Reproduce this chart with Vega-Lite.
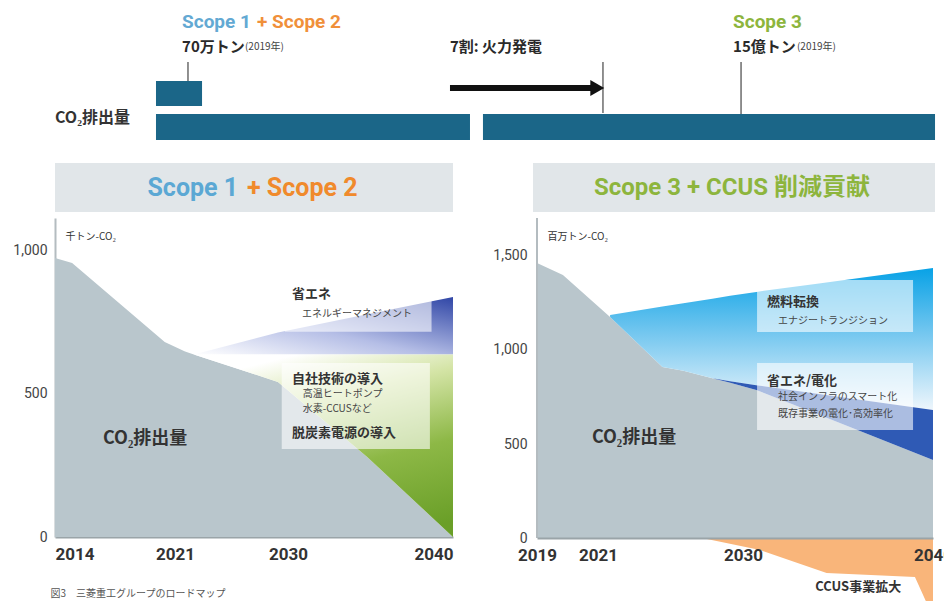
{
  "$schema": "https://vega.github.io/schema/vega-lite/v6.json",
  "background": "white",
  "padding": {"left": 12, "top": 0, "right": 0, "bottom": 0},
  "config": {"view": {"stroke": null}, "font": "Noto Sans CJK JP"},
  "datasets": {
    "top": [
      {"kind": "hdr", "u": 0, "u2": 44.77, "v": 4.9, "v2": 0},
      {"kind": "hdr", "u": 53.77, "u2": 98.99, "v": 4.9, "v2": 0},
      {"kind": "bar", "u": 11.36, "u2": 16.54, "v": 13.1, "v2": 10.6},
      {"kind": "bar", "u": 11.36, "u2": 46.68, "v": 9.8, "v2": 7.2},
      {"kind": "bar", "u": 48.14, "u2": 98.99, "v": 9.8, "v2": 7.2},
      {"kind": "line", "u": 14.96, "v": 15.0, "v2": 13.1},
      {"kind": "line", "u": 61.64, "v": 15.0, "v2": 9.9},
      {"kind": "line", "u": 77.17, "v": 15.0, "v2": 9.8},
      {"kind": "arrow", "u": 44.43, "u2": 60.4, "v": 12.4},
      {"kind": "head", "u": 61.0, "v": 12.4},
      {"kind": "blue", "u": 14.29, "v": 19.0, "text": "Scope 1"},
      {"kind": "orange", "u": 22.72, "v": 19.0, "text": "+ Scope 2"},
      {"kind": "green", "u": 76.27, "v": 19.0, "text": "Scope 3"},
      {"kind": "bold", "u": 14.29, "v": 16.5, "text": "70万トン"},
      {"kind": "bold", "u": 44.43, "v": 16.5, "text": "7割: 火力発電"},
      {"kind": "bold", "u": 76.27, "v": 16.5, "text": "15億トン"},
      {"kind": "small", "u": 21.37, "v": 16.5, "text": "(2019年)"},
      {"kind": "small", "u": 83.46, "v": 16.5, "text": "(2019年)"},
      {"kind": "label", "u": 0, "v": 9.4, "text": "CO₂排出量"},
      {"kind": "hblue", "u": 20.6, "v": 2.45, "text": "Scope 1"},
      {"kind": "horange", "u": 21.6, "v": 2.45, "text": "+ Scope 2"},
      {"kind": "hgreen", "u": 76.15, "v": 2.45, "text": "Scope 3 + CCUS 削減貢献"}
    ],
    "left": [
      {"series": "gray", "year": 2014, "hi": 975, "lo": 0},
      {"series": "gray", "year": 2015, "hi": 958, "lo": 0},
      {"series": "gray", "year": 2020.4, "hi": 682, "lo": 0},
      {"series": "gray", "year": 2021.8, "hi": 648, "lo": 0},
      {"series": "gray", "year": 2022.5, "hi": 638, "lo": 0},
      {"series": "gray", "year": 2029.2, "hi": 542, "lo": 0},
      {"series": "gray", "year": 2034.8, "hi": 280, "lo": 0},
      {"series": "gray", "year": 2040, "hi": 0, "lo": 0},
      {"series": "blue", "year": 2022.5, "hi": 638, "lo": 638},
      {"series": "blue", "year": 2029.2, "hi": 715, "lo": 638},
      {"series": "blue", "year": 2034.8, "hi": 779, "lo": 638},
      {"series": "blue", "year": 2040, "hi": 839, "lo": 638},
      {"series": "green", "year": 2022.5, "hi": 638, "lo": 638},
      {"series": "green", "year": 2029.2, "hi": 638, "lo": 542},
      {"series": "green", "year": 2034.8, "hi": 638, "lo": 280},
      {"series": "green", "year": 2040, "hi": 638, "lo": 0},
      {"series": "box", "year": 2029.76, "year2": 2038.7, "hi": 892, "lo": 717},
      {"series": "box", "year": 2029.5, "year2": 2038.6, "hi": 608, "lo": 308},
      {"series": "tb", "year": 2030.24, "hi": 850, "text": "省エネ"},
      {"series": "ts", "year": 2030.85, "hi": 780, "text": "エネルギーマネジメント"},
      {"series": "tb", "year": 2030.24, "hi": 552, "text": "自社技術の導入"},
      {"series": "ts", "year": 2030.9, "hi": 499, "text": "高温ヒートポンプ"},
      {"series": "ts", "year": 2030.9, "hi": 447, "text": "水素-CCUSなど"},
      {"series": "tb", "year": 2030.24, "hi": 362, "text": "脱炭素電源の導入"},
      {"series": "tbig", "year": 2016.8, "hi": 343, "text": "CO₂排出量"}
    ],
    "right": [
      {"series": "gray", "year": 2019, "hi": 1463, "lo": 0},
      {"series": "gray", "year": 2019.85, "hi": 1399, "lo": 0},
      {"series": "gray", "year": 2021.75, "hi": 1176, "lo": 0},
      {"series": "gray", "year": 2025, "hi": 910, "lo": 0},
      {"series": "gray", "year": 2026.3, "hi": 890, "lo": 0},
      {"series": "gray", "year": 2028.1, "hi": 850, "lo": 0},
      {"series": "gray", "year": 2029.2, "hi": 826, "lo": 0},
      {"series": "gray", "year": 2030.7, "hi": 787, "lo": 0},
      {"series": "gray", "year": 2034, "hi": 655, "lo": 0},
      {"series": "gray", "year": 2040, "hi": 415, "lo": 0},
      {"series": "cyan", "year": 2021.75, "hi": 1186, "lo": 1176},
      {"series": "cyan", "year": 2025, "hi": 1231, "lo": 910},
      {"series": "cyan", "year": 2026.3, "hi": 1248, "lo": 890},
      {"series": "cyan", "year": 2028.1, "hi": 1273, "lo": 850},
      {"series": "cyan", "year": 2029.2, "hi": 1288, "lo": 834},
      {"series": "cyan", "year": 2030.7, "hi": 1309, "lo": 813},
      {"series": "cyan", "year": 2034, "hi": 1354, "lo": 766},
      {"series": "cyan", "year": 2040, "hi": 1436, "lo": 681},
      {"series": "dblue", "year": 2028.1, "hi": 850, "lo": 850},
      {"series": "dblue", "year": 2029.2, "hi": 834, "lo": 826},
      {"series": "dblue", "year": 2030.7, "hi": 813, "lo": 787},
      {"series": "dblue", "year": 2034, "hi": 766, "lo": 655},
      {"series": "dblue", "year": 2040, "hi": 681, "lo": 415},
      {"series": "orange", "year": 2027.46, "hi": 0, "lo": 0},
      {"series": "orange", "year": 2030.9, "hi": 0, "lo": -64},
      {"series": "orange", "year": 2034.4, "hi": 0, "lo": -186},
      {"series": "orange", "year": 2039.05, "hi": 0, "lo": -207},
      {"series": "orange", "year": 2040, "hi": 0, "lo": -420},
      {"series": "axis", "year": 2019, "hi": 1702, "lo": 0},
      {"series": "box", "year": 2030.74, "year2": 2038.95, "hi": 1372, "lo": 1096},
      {"series": "box", "year": 2030.74, "year2": 2038.95, "hi": 931, "lo": 574},
      {"series": "box2", "year": 2033.68, "year2": 2038.95, "hi": -207, "lo": -314},
      {"series": "tb", "year": 2031.26, "hi": 1255, "text": "燃料転換"},
      {"series": "ts", "year": 2031.84, "hi": 1154, "text": "エナジートランジション"},
      {"series": "tb", "year": 2031.26, "hi": 835, "text": "省エネ/電化"},
      {"series": "ts", "year": 2031.84, "hi": 750, "text": "社会インフラのスマート化"},
      {"series": "ts", "year": 2031.84, "hi": 660, "text": "既存事業の電化･高効率化"},
      {"series": "tb", "year": 2033.8, "hi": -261, "text": "CCUS事業拡大"},
      {"series": "tbig", "year": 2020.8, "hi": 532, "text": "CO₂排出量"}
    ]
  },
  "bounds": "flush",
  "spacing": 6,
  "vconcat": [
    {
      "width": 889,
      "height": 212,
      "view": {"fill": "white", "stroke": null},
      "data": {"name": "top"},
      "encoding": {
        "x": {"field": "u", "type": "quantitative", "scale": {"domain": [0, 100], "nice": false, "zero": false}, "axis": null},
        "y": {"field": "v", "type": "quantitative", "scale": {"domain": [0, 21.2], "nice": false, "zero": false}, "axis": null}
      },
      "layer": [
        {"transform": [{"filter": "datum.kind === 'hdr'"}], "mark": {"type": "rect", "color": "#e1e6e9"}, "encoding": {"x2": {"field": "u2"}, "y2": {"field": "v2"}}},
        {"transform": [{"filter": "datum.kind === 'bar'"}], "mark": {"type": "rect", "color": "#1b6688"}, "encoding": {"x2": {"field": "u2"}, "y2": {"field": "v2"}}},
        {"transform": [{"filter": "datum.kind === 'line'"}], "mark": {"type": "rule", "color": "#222222", "strokeWidth": 1}, "encoding": {"y2": {"field": "v2"}}},
        {"transform": [{"filter": "datum.kind === 'arrow'"}], "mark": {"type": "rule", "color": "#111111", "strokeWidth": 6}, "encoding": {"x2": {"field": "u2"}}},
        {"transform": [{"filter": "datum.kind === 'head'"}], "mark": {"type": "point", "shape": "triangle-right", "filled": true, "color": "#111111", "size": 260, "opacity": 1}},
        {"transform": [{"filter": "datum.kind === 'blue'"}], "mark": {"type": "text", "align": "left", "baseline": "middle", "font": "Roboto", "fontSize": 19, "fontWeight": "bold", "color": "#63a9d3"}, "encoding": {"text": {"field": "text"}}},
        {"transform": [{"filter": "datum.kind === 'orange'"}], "mark": {"type": "text", "align": "left", "baseline": "middle", "font": "Roboto", "fontSize": 19, "fontWeight": "bold", "color": "#f0903a"}, "encoding": {"text": {"field": "text"}}},
        {"transform": [{"filter": "datum.kind === 'green'"}], "mark": {"type": "text", "align": "left", "baseline": "middle", "font": "Roboto", "fontSize": 19, "fontWeight": "bold", "color": "#8db53d"}, "encoding": {"text": {"field": "text"}}},
        {"transform": [{"filter": "datum.kind === 'bold'"}], "mark": {"type": "text", "align": "left", "baseline": "middle", "font": "Noto Sans CJK JP", "fontSize": 15, "fontWeight": "bold", "color": "#2a2a2a"}, "encoding": {"text": {"field": "text"}}},
        {"transform": [{"filter": "datum.kind === 'small'"}], "mark": {"type": "text", "align": "left", "baseline": "middle", "font": "Noto Sans CJK JP", "fontSize": 10, "color": "#444444"}, "encoding": {"text": {"field": "text"}}},
        {"transform": [{"filter": "datum.kind === 'label'"}], "mark": {"type": "text", "align": "left", "baseline": "middle", "font": "Noto Sans CJK JP", "fontSize": 16, "fontWeight": "bold", "color": "#333333"}, "encoding": {"text": {"field": "text"}}},
        {"transform": [{"filter": "datum.kind === 'hblue'"}], "mark": {"type": "text", "align": "right", "baseline": "middle", "font": "Roboto", "fontSize": 25, "fontWeight": "bold", "color": "#5ba8d4"}, "encoding": {"text": {"field": "text"}}},
        {"transform": [{"filter": "datum.kind === 'horange'"}], "mark": {"type": "text", "align": "left", "baseline": "middle", "font": "Roboto", "fontSize": 25, "fontWeight": "bold", "color": "#f08a2c"}, "encoding": {"text": {"field": "text"}}},
        {"transform": [{"filter": "datum.kind === 'hgreen'"}], "mark": {"type": "text", "align": "center", "baseline": "middle", "font": "Roboto, Noto Sans CJK JP", "fontSize": 24, "fontWeight": "bold", "color": "#8db53d"}, "encoding": {"text": {"field": "text"}}}
      ]
    },
    {
      "bounds": "flush",
      "spacing": 84,
      "hconcat": [
        {
          "width": 398,
          "height": 319,
          "data": {"name": "left"},
          "encoding": {
            "x": {
              "field": "year", "type": "quantitative",
              "scale": {"domain": [2014, 2021, 2030, 2040], "range": [0, 120, 233, 398], "nice": false, "zero": false},
              "axis": {"values": [2014, 2021, 2030, 2040], "format": "d", "ticks": false, "grid": false, "domainColor": "#9aa4a8", "domainWidth": 2, "labelFlush": true, "labelFont": "Roboto", "labelFontSize": 17, "labelFontWeight": "bold", "labelColor": "#333333", "labelPadding": 9, "title": "図3　三菱重工グループのロードマップ", "titleAnchor": "start", "titleAlign": "left", "titleBaseline": "middle", "titleX": -5, "titleY": 56, "titleFont": "Noto Sans CJK JP", "titleFontSize": 10, "titleFontWeight": "normal", "titleColor": "#555555"}
            },
            "y": {
              "field": "hi", "type": "quantitative",
              "scale": {"domain": [0, 1115], "nice": false, "zero": false},
              "axis": {"values": [0, 500, 1000], "format": ",.0f", "ticks": false, "grid": false, "domainColor": "#b4bcc0", "domainWidth": 2, "labelFont": "Roboto", "labelFontSize": 14, "labelColor": "#444444", "labelPadding": 8, "title": "千トン-CO₂", "titleAngle": 0, "titleAlign": "left", "titleBaseline": "middle", "titleX": 10, "titleY": 18, "titleFont": "Noto Sans CJK JP", "titleFontSize": 10, "titleFontWeight": "normal", "titleColor": "#333333"}
            }
          },
          "layer": [
            {"transform": [{"filter": "datum.series === 'gray'"}], "mark": {"type": "area", "color": "#b9c6cc"}, "encoding": {"y2": {"field": "lo"}}},
            {"transform": [{"filter": "datum.series === 'blue'"}], "mark": {"type": "area", "fill": {"gradient": "linear", "x1": 0, "y1": 1, "x2": 1, "y2": 0, "stops": [{"offset": 0, "color": "#ffffff"}, {"offset": 0.45, "color": "#b5bee6"}, {"offset": 1, "color": "#3046a6"}]}}, "encoding": {"y2": {"field": "lo"}}},
            {"transform": [{"filter": "datum.series === 'green'"}], "mark": {"type": "area", "fill": {"gradient": "linear", "x1": 0.4, "y1": 0, "x2": 0.75, "y2": 1, "stops": [{"offset": 0, "color": "#ffffff"}, {"offset": 0.25, "color": "#d4e4a6"}, {"offset": 0.6, "color": "#8db846"}, {"offset": 1, "color": "#6a9f28"}]}}, "encoding": {"y2": {"field": "lo"}}},
            {"transform": [{"filter": "datum.series === 'box'"}], "mark": {"type": "rect", "color": "#ffffff", "opacity": 0.6}, "encoding": {"x2": {"field": "year2"}, "y2": {"field": "lo"}}},
            {"transform": [{"filter": "datum.series === 'tb'"}], "mark": {"type": "text", "align": "left", "baseline": "middle", "font": "Noto Sans CJK JP", "fontSize": 13, "fontWeight": "bold", "color": "#333333"}, "encoding": {"text": {"field": "text"}}},
            {"transform": [{"filter": "datum.series === 'ts'"}], "mark": {"type": "text", "align": "left", "baseline": "middle", "font": "Noto Sans CJK JP", "fontSize": 10, "color": "#444444"}, "encoding": {"text": {"field": "text"}}},
            {"transform": [{"filter": "datum.series === 'tbig'"}], "mark": {"type": "text", "align": "left", "baseline": "middle", "font": "Noto Sans CJK JP", "fontSize": 18, "fontWeight": "bold", "color": "#333333"}, "encoding": {"text": {"field": "text"}}}
          ]
        },
        {
          "width": 396,
          "height": 383,
          "data": {"name": "right"},
          "encoding": {
            "x": {
              "field": "year", "type": "quantitative",
              "scale": {"domain": [2019, 2021, 2030, 2040], "range": [0, 61, 206, 396], "nice": false, "zero": false},
              "axis": {"values": [2019, 2021, 2030, 2040], "format": "d", "offset": -63, "zindex": 1, "ticks": false, "grid": false, "domainColor": "#9aa4a8", "domainWidth": 2, "labelFlush": false, "labelOverlap": false, "labelFont": "Roboto", "labelFontSize": 17, "labelFontWeight": "bold", "labelColor": "#333333", "labelPadding": 9, "title": null}
            },
            "y": {
              "field": "hi", "type": "quantitative",
              "scale": {"domain": [-335, 1702], "nice": false, "zero": false},
              "axis": {"values": [0, 500, 1000, 1500], "format": ",.0f", "ticks": false, "grid": false, "domain": false, "labelFont": "Roboto", "labelFontSize": 14, "labelColor": "#444444", "labelPadding": 10, "title": "百万トン-CO₂", "titleAngle": 0, "titleAlign": "left", "titleBaseline": "middle", "titleX": 10, "titleY": 18, "titleFont": "Noto Sans CJK JP", "titleFontSize": 10, "titleFontWeight": "normal", "titleColor": "#333333"}
            }
          },
          "layer": [
            {"transform": [{"filter": "datum.series === 'gray'"}], "mark": {"type": "area", "color": "#b9c6cc", "clip": true}, "encoding": {"y2": {"field": "lo"}}},
            {"transform": [{"filter": "datum.series === 'cyan'"}], "mark": {"type": "area", "clip": true, "fill": {"gradient": "linear", "x1": 0, "y1": 0, "x2": 0, "y2": 1, "stops": [{"offset": 0, "color": "#08a2e6"}, {"offset": 0.45, "color": "#72c6ef"}, {"offset": 1, "color": "#eef6fc"}]}}, "encoding": {"y2": {"field": "lo"}}},
            {"transform": [{"filter": "datum.series === 'dblue'"}], "mark": {"type": "area", "color": "#2f5ab5", "clip": true}, "encoding": {"y2": {"field": "lo"}}},
            {"transform": [{"filter": "datum.series === 'orange'"}], "mark": {"type": "area", "color": "#f9b57a", "clip": true}, "encoding": {"y2": {"field": "lo"}}},
            {"transform": [{"filter": "datum.series === 'axis'"}], "mark": {"type": "rule", "color": "#b4bcc0", "strokeWidth": 2}, "encoding": {"y2": {"field": "lo"}}},
            {"transform": [{"filter": "datum.series === 'box'"}], "mark": {"type": "rect", "color": "#ffffff", "opacity": 0.6}, "encoding": {"x2": {"field": "year2"}, "y2": {"field": "lo"}}},
            {"transform": [{"filter": "datum.series === 'box2'"}], "mark": {"type": "rect", "color": "#ffffff", "opacity": 0.85}, "encoding": {"x2": {"field": "year2"}, "y2": {"field": "lo"}}},
            {"transform": [{"filter": "datum.series === 'tb'"}], "mark": {"type": "text", "align": "left", "baseline": "middle", "font": "Noto Sans CJK JP", "fontSize": 13, "fontWeight": "bold", "color": "#333333"}, "encoding": {"text": {"field": "text"}}},
            {"transform": [{"filter": "datum.series === 'ts'"}], "mark": {"type": "text", "align": "left", "baseline": "middle", "font": "Noto Sans CJK JP", "fontSize": 10, "color": "#444444"}, "encoding": {"text": {"field": "text"}}},
            {"transform": [{"filter": "datum.series === 'tbig'"}], "mark": {"type": "text", "align": "left", "baseline": "middle", "font": "Noto Sans CJK JP", "fontSize": 18, "fontWeight": "bold", "color": "#333333"}, "encoding": {"text": {"field": "text"}}}
          ]
        }
      ]
    }
  ]
}
